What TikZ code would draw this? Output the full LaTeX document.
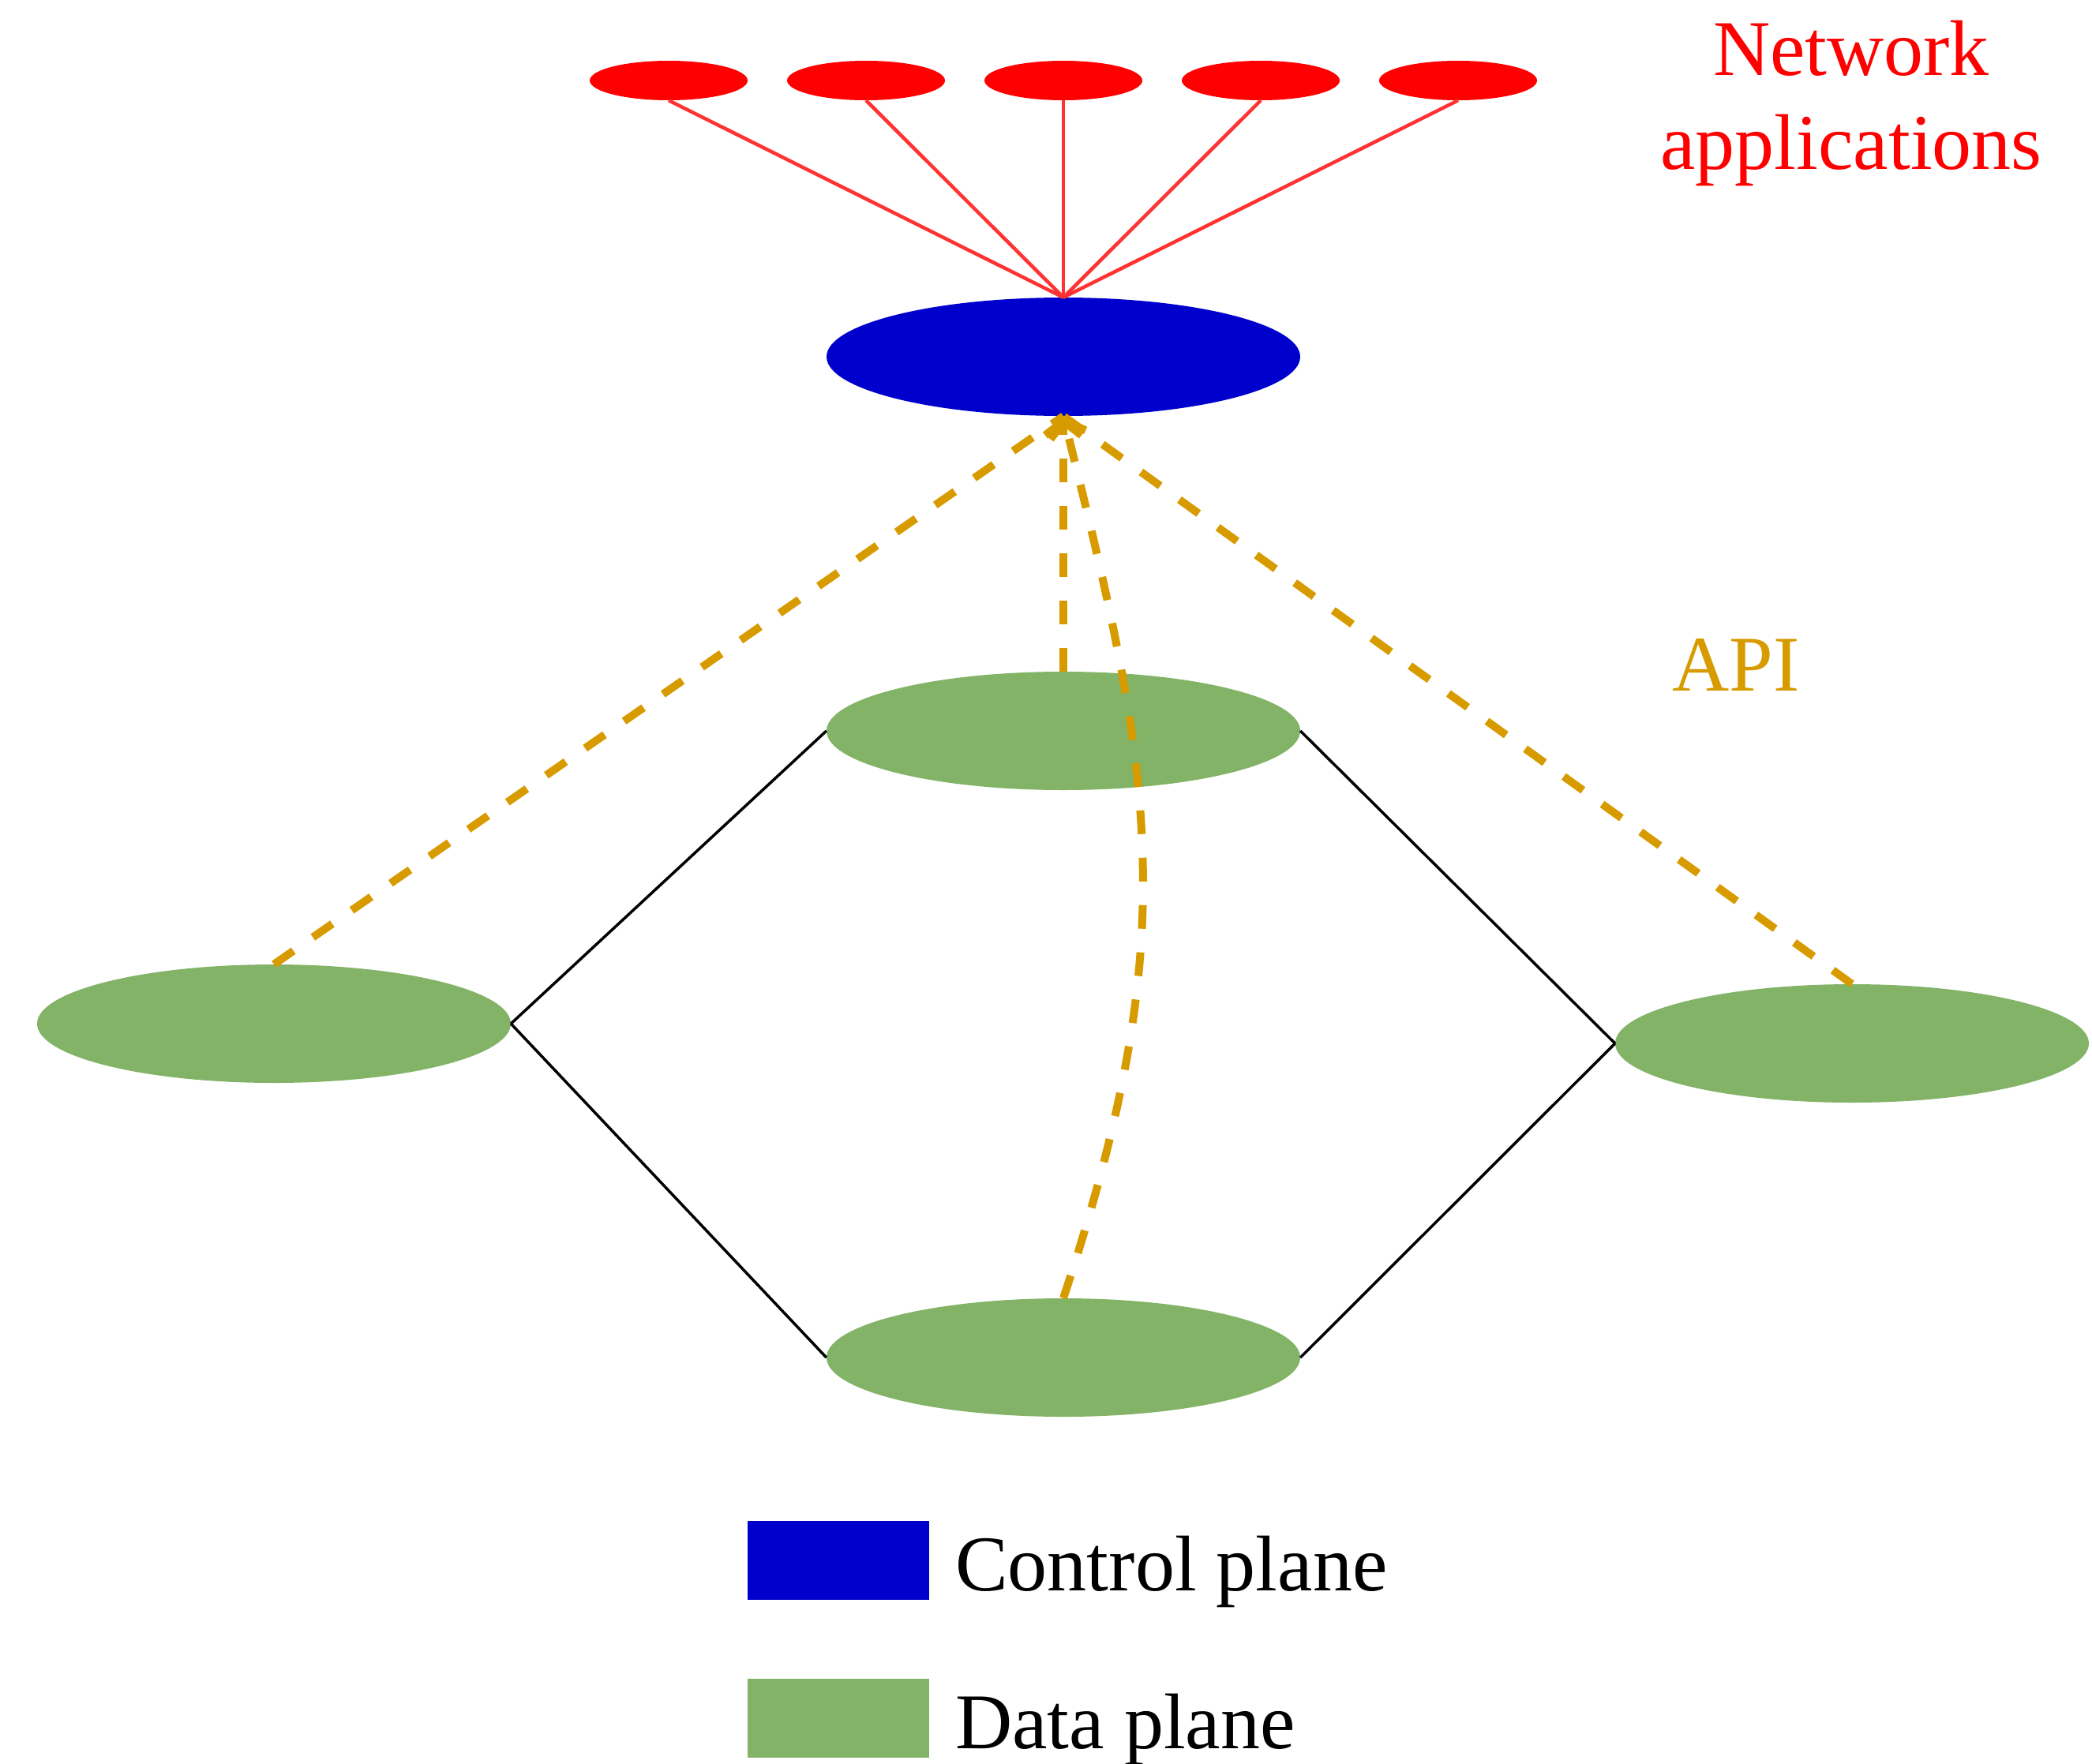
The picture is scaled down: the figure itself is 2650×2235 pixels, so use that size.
\documentclass[tikz,border=0pt]{standalone}
\usepackage{fontspec}
\setmainfont{Liberation Serif}
\usetikzlibrary{shapes.geometric,arrows.meta}
\definecolor{appred}{HTML}{FF0000}
\definecolor{linkred}{HTML}{FF3333}
\definecolor{ctrlblue}{HTML}{0000CC}
\definecolor{datagreen}{HTML}{82B366}
\definecolor{apiyellow}{HTML}{D79B00}
\begin{document}
\begin{tikzpicture}[x=1pt,y=-1pt,
  app/.style={ellipse,fill=appred,minimum width=200pt,minimum height=50pt,inner sep=0pt},
  ctrl/.style={ellipse,fill=ctrlblue,minimum width=600pt,minimum height=150pt,inner sep=0pt},
  dataplane/.style={ellipse,fill=datagreen,minimum width=600pt,minimum height=150pt,inner sep=0pt},
  applink/.style={draw=linkred,line width=4.5pt},
  apilink/.style={draw=apiyellow,line width=10pt,dash pattern=on 30pt off 30pt},
  apiarrow/.style={apilink,-{Straight Barb[length=18pt,width=46pt]}},
  phys/.style={draw=black,line width=3.5pt},
  lbl/.style={font=\fontsize{100}{120}\selectfont,inner sep=0pt}]
\useasboundingbox (0,0) rectangle (2650,2235);

% nodes
\node[app] (a1) at (847,102) {};
\node[app] (a2) at (1097,102) {};
\node[app] (a3) at (1347,102) {};
\node[app] (a4) at (1597,102) {};
\node[app] (a5) at (1847,102) {};
\node[ctrl] (c) at (1347,452) {};
\node[dataplane] (dt) at (1347,926) {};
\node[dataplane] (dl) at (347,1297) {};
\node[dataplane] (dr) at (2346,1322) {};
\node[dataplane] (db) at (1347,1720) {};

% app links
\foreach \n in {a1,a2,a3,a4,a5}
  \draw[applink] (\n.south) -- (c.north);

% physical links
\draw[phys] (dt.west) -- (dl.east);
\draw[phys] (dl.east) -- (db.west);
\draw[phys] (dt.east) -- (dr.west);
\draw[phys] (dr.west) -- (db.east);

% API links
\draw[apilink] (dl.north) -- (c.south);
\draw[apilink] (dr.north) -- (c.south);
\draw[apiarrow] (dt.north) -- (c.south);
\draw[apiarrow] (db.north) .. controls (1499,1185) and (1462,987) .. (c.south);

% labels
\node[lbl,text=appred,anchor=base] (t1) at (2345,95) {Network};
\node[lbl,text=appred,anchor=base] (t2) at (2345,214) {applications};
\node[lbl,text=apiyellow,anchor=base] (api) at (2199,875) {API};

% legend
\node[fill=ctrlblue,minimum width=230pt,minimum height=100pt,inner sep=0pt] (lc) at (1062,1977) {};
\node[fill=datagreen,minimum width=230pt,minimum height=100pt,inner sep=0pt] (ld) at (1062,2177) {};
\node[lbl,anchor=base west] (lct) at (1210,2015) {Control plane};
\node[lbl,anchor=base west] (ldt) at (1210,2215) {Data plane};
\end{tikzpicture}
\end{document}
